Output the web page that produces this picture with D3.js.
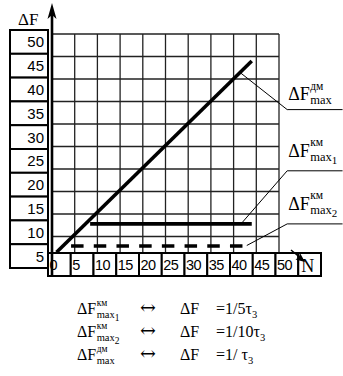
<!DOCTYPE html>
<html>
<head>
<meta charset="utf-8">
<script src="https://cdn.jsdelivr.net/npm/d3@7"></script>
<style>
  body { margin: 0; background: #fff; }
  svg { display: block; }
</style>
</head>
<body>
<svg id="chart" width="343" height="376"></svg>
<script>
// chart values
let yCats = [50, 45, 40, 35, 30, 25, 20, 15, 10, 5];
let xCats = [0, 5, 10, 15, 20, 25, 30, 35, 40, 45, 50];
let gridX = [0, 5, 10, 15, 20, 25, 30, 35, 40, 45, 50];
let gridY = [5, 10, 15, 20, 25, 30, 35, 40, 45, 50];

// series: ΔF^дм_max (diagonal), ΔF^км_max1 (solid), ΔF^км_max2 (dashed)
let diagN = [1, 44];
let diagF = [1.5, 44];
let solidN = [8.4, 44];
let solidF = [7.8, 7.8];
let dashN = [4.2, 43];
let dashF = [2.9, 2.9];

// leader lines: start on series, elbow, end
let leadStartN = [41.6, 41.8, 42.9];
let leadStartF = [41.3, 8.0, 3.0];
let leadElbowN = 51.8;
let leadElbowF = [33.2, 19.6, 7.8];
let leadEndN = 64;

let labelSup = ["дм", "км", "км"];
let labelSubIdx = ["", "1", "2"];

// bottom legend
let legendSup = ["км", "км", "дм"];
let legendIdx = ["1", "2", ""];
let legendEq = ["1/5τ", "1/10τ", "1/ τ"];

const svg = d3.select("#chart");
const serif = "'Liberation Serif', 'Times New Roman', serif";
const sans = "'Liberation Sans', Arial, sans-serif";

let x = d3.scaleLinear().domain([0, 50]).range([52, 279]);
let y = d3.scaleLinear().domain([0, 50]).range([259, 34]);

let yBand = d3.scaleBand().domain(yCats).range([30, 268]);
let xBand = d3.scaleBand().domain(xCats.concat(["N"])).range([48, 321]);

// grid
let grid = svg.append("g").attr("stroke", "#222").attr("stroke-width", 1.3);
grid.selectAll("line.v")
    .data(gridX)
    .enter()
    .append("line")
    .attr("x1", function (d) { return x(d); })
    .attr("x2", function (d) { return x(d); })
    .attr("y1", y(50))
    .attr("y2", 254)
;
grid.selectAll("line.h")
    .data(gridY)
    .enter()
    .append("line")
    .attr("x1", x(0))
    .attr("x2", x(50))
    .attr("y1", function (d) { return y(d); })
    .attr("y2", function (d) { return y(d); })
;

// y label boxes
let yBox = svg.append("g");
yBox.selectAll("rect")
    .data(yCats)
    .enter()
    .append("rect")
    .attr("x", 10)
    .attr("y", function (d) { return yBand(d); })
    .attr("width", 38)
    .attr("height", yBand.bandwidth())
    .attr("fill", "#fff")
    .attr("stroke", "#000")
    .attr("stroke-width", 2)
;
yBox.selectAll("text")
    .data(yCats)
    .enter()
    .append("text")
    .attr("x", 44)
    .attr("y", function (d) { return yBand(d) + yBand.bandwidth() / 2 + 5.5; })
    .attr("text-anchor", "end")
    .attr("font-family", sans)
    .attr("font-size", 15)
    .text(function (d) { return d; })
;

// x label boxes
let xBox = svg.append("g");
xBox.selectAll("rect")
    .data(xBand.domain())
    .enter()
    .append("rect")
    .attr("x", function (d) { return xBand(d); })
    .attr("y", 253)
    .attr("width", xBand.bandwidth())
    .attr("height", 23)
    .attr("fill", "#fff")
    .attr("stroke", "#000")
    .attr("stroke-width", 2)
;
xBox.selectAll("text")
    .data(xCats)
    .enter()
    .append("text")
    .attr("x", function (d) { return xBand(d) + 1.5; })
    .attr("y", 270)
    .attr("font-family", sans)
    .attr("font-size", 14.5)
    .attr("letter-spacing", -0.5)
    .text(function (d) { return d; })
;
svg.append("text")
    .attr("x", xBand("N") + 3)
    .attr("y", 272)
    .attr("font-family", serif)
    .attr("font-size", 18)
    .text("N");

// x axis arrow (small, pointing at N)
svg.append("line")
    .attr("x1", 291).attr("y1", 250)
    .attr("x2", 303).attr("y2", 260)
    .attr("stroke", "#000").attr("stroke-width", 1.5);
svg.append("path")
    .attr("d", "M305,262 L295.5,259.5 L299,257 L300,253 Z")
    .attr("fill", "#000");

// y axis with arrow
svg.append("line")
    .attr("x1", x(0)).attr("x2", x(0))
    .attr("y1", 12).attr("y2", 276)
    .attr("stroke", "#000").attr("stroke-width", 2.6);
svg.append("path")
    .attr("d", "M" + x(0) + ",3 L" + (x(0) + 4.5) + ",19 L" + x(0) + ",15 L" + (x(0) - 4.5) + ",19 Z")
    .attr("fill", "#000");

svg.append("text")
    .attr("x", 18).attr("y", 25)
    .attr("font-family", serif)
    .attr("font-size", 17)
    .text("ΔF");

// series
let line = d3.line()
    .x(function (d) { return x(d[0]); })
    .y(function (d) { return y(d[1]); });

svg.append("path")
    .attr("d", line(d3.zip(diagN, diagF)))
    .attr("stroke", "#000").attr("stroke-width", 3.6).attr("fill", "none");
svg.append("path")
    .attr("d", line(d3.zip(solidN, solidF)))
    .attr("stroke", "#000").attr("stroke-width", 3.6).attr("fill", "none");
svg.append("path")
    .attr("d", line(d3.zip(dashN, dashF)))
    .attr("stroke", "#000").attr("stroke-width", 3.6).attr("fill", "none")
    .attr("stroke-dasharray", "12.5,10.2");

// leaders + labels
let lead = svg.append("g");
lead.selectAll("path")
    .data(leadStartN)
    .enter()
    .append("path")
    .attr("d", function (d, i) {
        return line([[d, leadStartF[i]], [leadElbowN, leadElbowF[i]], [leadEndN, leadElbowF[i]]]);
    })
    .attr("stroke", "#000").attr("stroke-width", 1).attr("fill", "none");

// ΔF with stacked super/subscript
function richLabel(g, lx, ly, sup, idx, big, supSize, subSize, tiny, supUp, subDown) {
    let t = g.append("text")
        .attr("x", lx).attr("y", ly)
        .attr("font-family", serif)
        .attr("font-size", big)
        .text("ΔF");
    let w = t.node().getComputedTextLength();
    g.append("text")
        .attr("x", lx + w + 0.5).attr("y", ly - supUp)
        .attr("font-family", serif)
        .attr("font-size", supSize)
        .text(sup);
    let s = g.append("text")
        .attr("x", lx + w + 0.5).attr("y", ly + subDown)
        .attr("font-family", serif)
        .attr("font-size", subSize)
        .text("max");
    if (idx !== "") {
        let sw = s.node().getComputedTextLength();
        g.append("text")
            .attr("x", lx + w + 0.5 + sw).attr("y", ly + subDown + 3.5)
            .attr("font-family", serif)
            .attr("font-size", tiny)
            .text(idx);
    }
}

let labels = svg.append("g");
let labelGap = [9.5, 14, 14];
leadElbowF.forEach(function (f, i) {
    richLabel(labels, x(leadElbowN) + 1, y(f) - labelGap[i], labelSup[i], labelSubIdx[i], 18, 11.5, 12.5, 11, 10.5, 4);
});

// bottom legend
let legend = svg.append("g");
let rowY = [314, 337, 360];
rowY.forEach(function (ry, i) {
    richLabel(legend, 77, ry, legendSup[i], legendIdx[i], 16, 9.5, 10.5, 9.5, 8, 3.8);
    legend.append("text")
        .attr("x", 140).attr("y", ry)
        .attr("font-family", "'DejaVu Serif', serif").attr("font-size", 19)
        .text("↔");
    legend.append("text")
        .attr("x", 180).attr("y", ry)
        .attr("font-family", serif).attr("font-size", 16)
        .text("ΔF");
    let eq = legend.append("text")
        .attr("x", 216).attr("y", ry)
        .attr("font-family", serif);
    eq.append("tspan").attr("font-size", 16).text("=" + legendEq[i]);
    eq.append("tspan").attr("dy", 3.5).attr("font-size", 10.5).text("3");
});
</script>
</body>
</html>
